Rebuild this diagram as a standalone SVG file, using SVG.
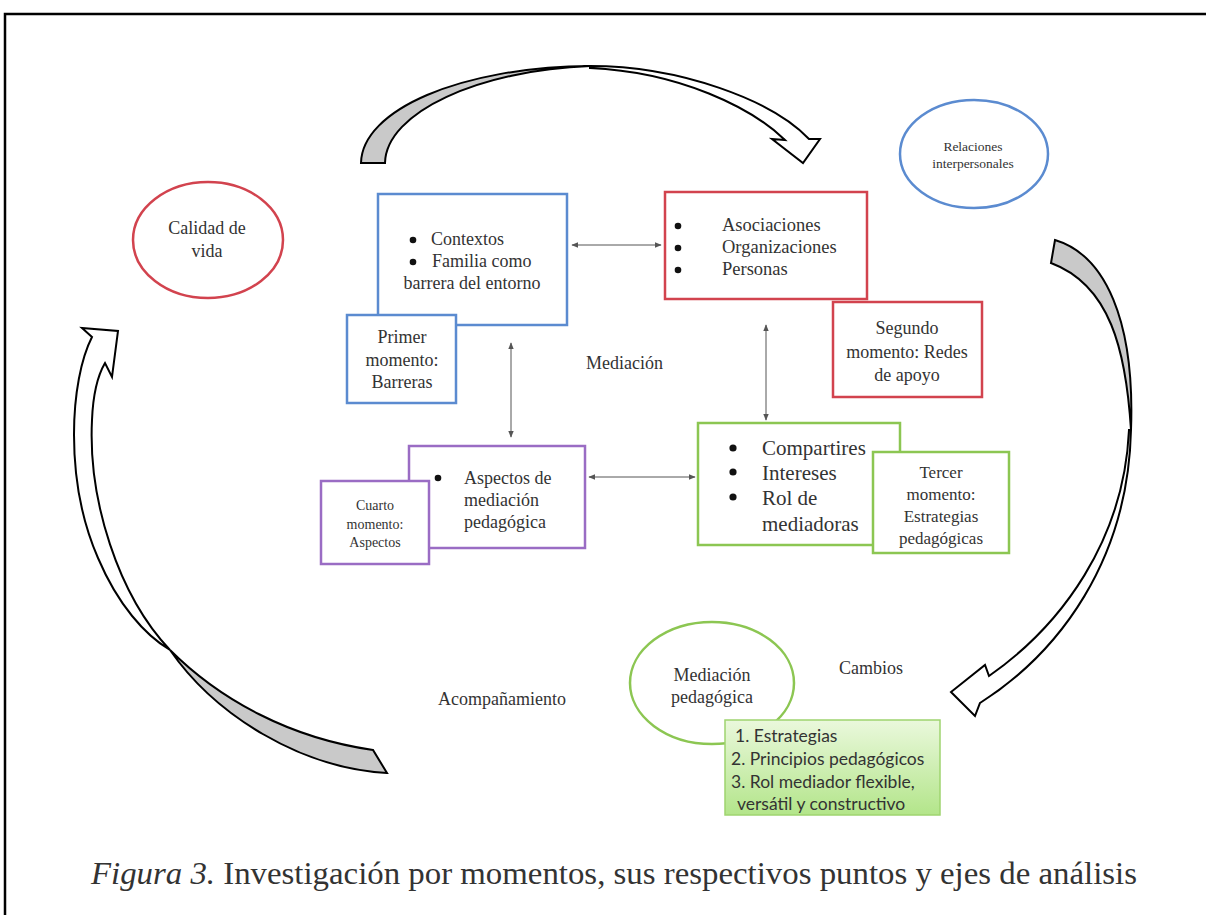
<svg xmlns="http://www.w3.org/2000/svg" width="1206" height="915" viewBox="0 0 1206 915">
<defs>
<style>
.t{font-family:"Liberation Serif","Times New Roman",serif;fill:#333;}
.s18{font-size:18px;}
.s17{font-size:17px;}
.s185{font-size:18.5px;}
.s21{font-size:21px;}
.s14{font-size:14px;}
.s135{font-size:13.5px;}
.m{text-anchor:middle;}
.box{fill:#fff;stroke-width:2.5;}
.blue{stroke:#5b8bd0;}
.red{stroke:#d2434e;}
.purple{stroke:#9a6cc4;}
.green{stroke:#8cc652;}
.big{stroke:#000;stroke-width:2;stroke-linejoin:miter;}
.gray{fill:#c9c9c9;}
.white{fill:#fff;}
.conn{stroke:#555;stroke-width:1;fill:none;marker-start:url(#ah);marker-end:url(#ah);}
.cal{font-family:Lato,"Open Sans","Noto Sans",sans-serif;font-size:17.5px;fill:#333;}
</style>
<marker id="ah" viewBox="0 0 10 10" refX="9" refY="5" markerWidth="7" markerHeight="7" markerUnits="userSpaceOnUse" orient="auto-start-reverse">
<path d="M0,1 L10,5 L0,9 Z" fill="#555"/>
</marker>
<linearGradient id="gg" x1="0" y1="0" x2="0" y2="1">
<stop offset="0" stop-color="#eaf8dc"/>
<stop offset="1" stop-color="#b3e58a"/>
</linearGradient>
</defs>
<rect width="1206" height="915" fill="#fff"/>
<path d="M5,915 L5,14 L1206,14" fill="none" stroke="#000" stroke-width="2.5"/>

<g id="big-arrows">
<g id="arrow-top">
<path class="big gray" d="M361,163 C362,110 460,67 590,66 C480,70 386,112 385,163 Z"/>
<path class="big white" d="M590,66 C680,66 772,100 809,139 L820,139 L803,163 L772,139 L785,140 C752,108 680,72 590,68 Z"/>
</g>
<g id="arrow-right">
<path class="big gray" d="M1055,240 C1105,255 1135,320 1131,430 C1126,350 1110,285 1051,263 Z"/>
<path class="big white" d="M1129,430 C1124,540 1062,625 989,676 L985,665 L951,692 L975,716 L980,703 C1060,652 1128,560 1131,430 Z"/>
</g>
<g id="arrow-left">
<path class="big gray" d="M387,773 L373,750 C290,738 220,700 170,650 C215,715 300,768 387,773 Z"/>
<path class="big white" d="M170,650 C118,595 88,500 92,420 C93,395 98,375 105,363 L112,377 L118,331 L82,328 L92,337 C70,380 64,480 98,558 C118,605 145,635 170,650 Z"/>
</g>
</g>

<g id="connectors">
<line class="conn" x1="572" y1="245" x2="661" y2="245"/>
<line class="conn" x1="511" y1="343" x2="511" y2="437"/>
<line class="conn" x1="766" y1="325" x2="766" y2="420"/>
<line class="conn" x1="589" y1="477" x2="695" y2="477"/>
</g>

<g id="calidad">
<ellipse cx="208" cy="240" rx="75" ry="58" fill="#fff" stroke="#d2434e" stroke-width="2.5"/>
<text class="t s18 m" x="207" y="234">Calidad de</text>
<text class="t s18 m" x="207" y="257">vida</text>
</g>

<g id="relaciones">
<ellipse cx="974" cy="154" rx="74" ry="54" fill="#fff" stroke="#5b8bd0" stroke-width="2.5"/>
<text class="t s135 m" x="973" y="151">Relaciones</text>
<text class="t s135 m" x="973" y="168">interpersonales</text>
</g>

<g id="contextos">
<rect class="box blue" x="378" y="194" width="189" height="131"/>
<circle cx="413" cy="240" r="3.3" fill="#111"/>
<text class="t s18" x="431" y="245">Contextos</text>
<circle cx="413" cy="262" r="3.3" fill="#111"/>
<text class="t s18" x="432" y="267">Familia como</text>
<text class="t s18 m" x="472" y="289">barrera del entorno</text>
</g>

<g id="primer">
<rect class="box blue" x="347" y="315" width="109" height="88"/>
<text class="t s18 m" x="402" y="343">Primer</text>
<text class="t s18 m" x="402" y="366">momento:</text>
<text class="t s18 m" x="402" y="388">Barreras</text>
</g>

<g id="asociaciones">
<rect class="box red" x="665" y="192" width="202" height="107"/>
<circle cx="678" cy="226" r="3.3" fill="#111"/>
<text class="t s185" x="722" y="231">Asociaciones</text>
<circle cx="678" cy="248" r="3.3" fill="#111"/>
<text class="t s185" x="722" y="253">Organizaciones</text>
<circle cx="678" cy="270" r="3.3" fill="#111"/>
<text class="t s185" x="722" y="275">Personas</text>
</g>

<g id="segundo">
<rect class="box red" x="833" y="302" width="149" height="95"/>
<text class="t s18 m" x="907" y="334">Segundo</text>
<text class="t s18 m" x="907" y="358">momento: Redes</text>
<text class="t s18 m" x="907" y="381">de apoyo</text>
</g>

<g id="mediacion-label">
<text class="t s18" x="586" y="369">Mediación</text>
</g>

<g id="aspectos">
<rect class="box purple" x="409" y="446" width="176" height="102"/>
<circle cx="438" cy="478" r="3.3" fill="#111"/>
<text class="t s18" x="464" y="484">Aspectos de</text>
<text class="t s18" x="464" y="506">mediación</text>
<text class="t s18" x="464" y="528">pedagógica</text>
</g>

<g id="cuarto">
<rect class="box purple" x="321" y="481" width="108" height="83"/>
<text class="t s14 m" x="375" y="510">Cuarto</text>
<text class="t s14 m" x="375" y="529">momento:</text>
<text class="t s14 m" x="375" y="547">Aspectos</text>
</g>

<g id="compartires">
<rect class="box green" x="698" y="423" width="202" height="122"/>
<circle cx="733" cy="448" r="3.6" fill="#111"/>
<text class="t s21" x="762" y="455">Compartires</text>
<circle cx="733" cy="472" r="3.6" fill="#111"/>
<text class="t s21" x="762" y="480">Intereses</text>
<circle cx="733" cy="497" r="3.6" fill="#111"/>
<text class="t s21" x="762" y="505">Rol de</text>
<text class="t s21" x="762" y="531">mediadoras</text>
</g>

<g id="tercer">
<rect class="box green" x="873" y="452" width="136" height="101"/>
<text class="t s17 m" x="941" y="478">Tercer</text>
<text class="t s17 m" x="941" y="500">momento:</text>
<text class="t s17 m" x="941" y="522">Estrategias</text>
<text class="t s17 m" x="941" y="544">pedagógicas</text>
</g>

<g id="mediacion-pedagogica">
<ellipse cx="712" cy="683" rx="82" ry="61" fill="#fff" stroke="#8cc652" stroke-width="2.5"/>
<text class="t s18 m" x="712" y="681">Mediación</text>
<text class="t s18 m" x="712" y="703">pedagógica</text>
</g>

<g id="cambios">
<text class="t s18" x="839" y="674">Cambios</text>
</g>

<g id="acompanamiento">
<text class="t s18" x="438" y="705">Acompañamiento</text>
</g>

<g id="lista">
<rect x="725" y="720" width="215" height="95" fill="url(#gg)" stroke="#9fd46f" stroke-width="1.5"/>
<text class="cal" x="735" y="742">1. Estrategias</text>
<text class="cal" x="731" y="765">2. Principios pedagógicos</text>
<text class="cal" x="731" y="788">3. Rol mediador flexible,</text>
<text class="cal" x="737" y="810">versátil y constructivo</text>
</g>

<g id="caption">
<text class="t" x="91" y="884" font-size="31" textLength="1046" lengthAdjust="spacingAndGlyphs"><tspan font-style="italic">Figura 3.</tspan> Investigación por momentos, sus respectivos puntos y ejes de análisis</text>
</g>
</svg>
